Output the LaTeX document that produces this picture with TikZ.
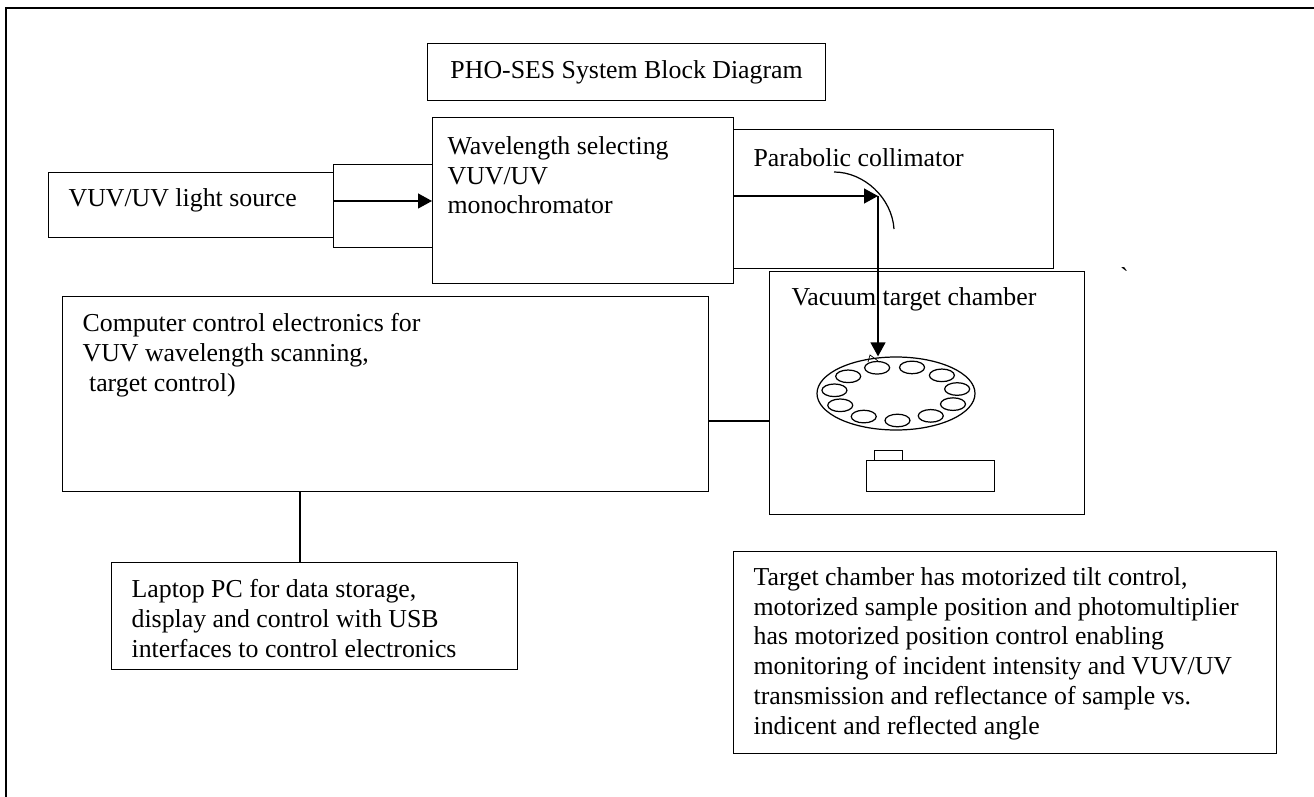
\documentclass[tikz,border=0pt]{standalone}
\usepackage{fontspec}
\setmainfont{Liberation Serif}
\usetikzlibrary{arrows,arrows.meta,shapes.geometric,positioning}

\begin{document}
\begin{tikzpicture}[x=0.02cm, y=-0.02cm, >={Triangle[length=2.8mm,width=3mm]},
    line width=0.7pt, font=\fontsize{14.7pt}{16.9pt}\selectfont,
    blk/.style={draw, inner sep=0pt, anchor=north west},
    txt/.style={inner sep=0pt, anchor=north west, align=left}]
  \useasboundingbox (0,0) rectangle (1314,797);
  \draw (1314,8) -- (6,8) -- (6,797);
  % blocks
  \node [blk, minimum width=398*0.02cm, minimum height=57*0.02cm]  (title)   at (427,43)  {PHO-SES System Block Diagram};
  \node [blk, minimum width=285*0.02cm, minimum height=65*0.02cm]  (src)     at (48,172)  {};
  \node [blk, minimum width=99*0.02cm,  minimum height=83*0.02cm]  (adapt)   at (333,164) {};
  \node [blk, minimum width=301*0.02cm, minimum height=166*0.02cm] (mono)    at (432,117) {};
  \node [blk, minimum width=320*0.02cm, minimum height=139*0.02cm] (colli)   at (733,129) {};
  \node [blk, minimum width=315*0.02cm, minimum height=243*0.02cm] (chamber) at (769,271) {};
  \node [blk, minimum width=646*0.02cm, minimum height=195*0.02cm] (comp)    at (62,296)  {};
  \node [blk, minimum width=406*0.02cm, minimum height=107*0.02cm] (laptop)  at (111,562) {};
  \node [blk, minimum width=543*0.02cm, minimum height=202*0.02cm] (note)    at (733,551) {};
  % texts
  \node [txt] (srctxt)     at (68,188)  {VUV/UV light source};
  \node [txt] (monotxt)    at (447,136) {Wavelength selecting\\VUV/UV\\monochromator};
  \node [txt] (collitxt)   at (753,148) {Parabolic collimator};
  \node [txt] (chambertxt) at (791,287) {Vacuum target chamber};
  \node [txt] (comptxt)    at (82,313)  {Computer control electronics for\\VUV wavelength scanning,\\\hspace{0.25em}target control)};
  \node [txt] (laptoptxt)  at (131,579) {Laptop PC for data storage,\\display and control with USB\\interfaces to control electronics};
  \node [txt] (notetxt)    at (753,567) {Target chamber has motorized tilt control,\\motorized sample position and photomultiplier\\has motorized position control enabling\\monitoring of incident intensity and VUV/UV\\transmission and reflectance of sample vs.\\indicent and reflected angle};
  \node [inner sep=0pt] (tick) at (1124.5,276.5) {\textasciigrave};
  % sample wheel and detector
  \node [draw, ellipse, inner sep=0pt, minimum width=158*0.02cm, minimum height=73*0.02cm] (disk) at (896,393.5) {};
  \foreach \a in {0,...,10}
    \draw ([shift={(-75+\a*32.727:62 and 27)}]disk.center) ellipse [x radius=12.5, y radius=6.3];
  \node [blk, minimum width=128*0.02cm, minimum height=31*0.02cm] (det)    at (866,460) {};
  \node [blk, minimum width=28*0.02cm,  minimum height=10*0.02cm] (dettab) at (874,450) {};
  \draw [line width=0.4pt] (868,362) -- (870,355) -- (878,361);
  % mirror
  \coordinate (mirror) at (878,196);
  \draw (834,172) .. controls (864,172) and (892,198) .. (894,229);
  % connectors
  \coordinate (beam) at (0,201);
  \coordinate (link) at (740,421);
  \coordinate (drop) at (300,520);
  \draw [->] (src.east |- beam) -- (mono.west |- beam);
  \draw [->] (mono.east |- mirror) -- (mirror);
  \draw [->] (mirror) -- (mirror |- disk.north);
  \draw (comp.east |- link) -- (chamber.west |- link);
  \draw (comp.south -| drop) -- (laptop.north -| drop);
\end{tikzpicture}
\end{document}
